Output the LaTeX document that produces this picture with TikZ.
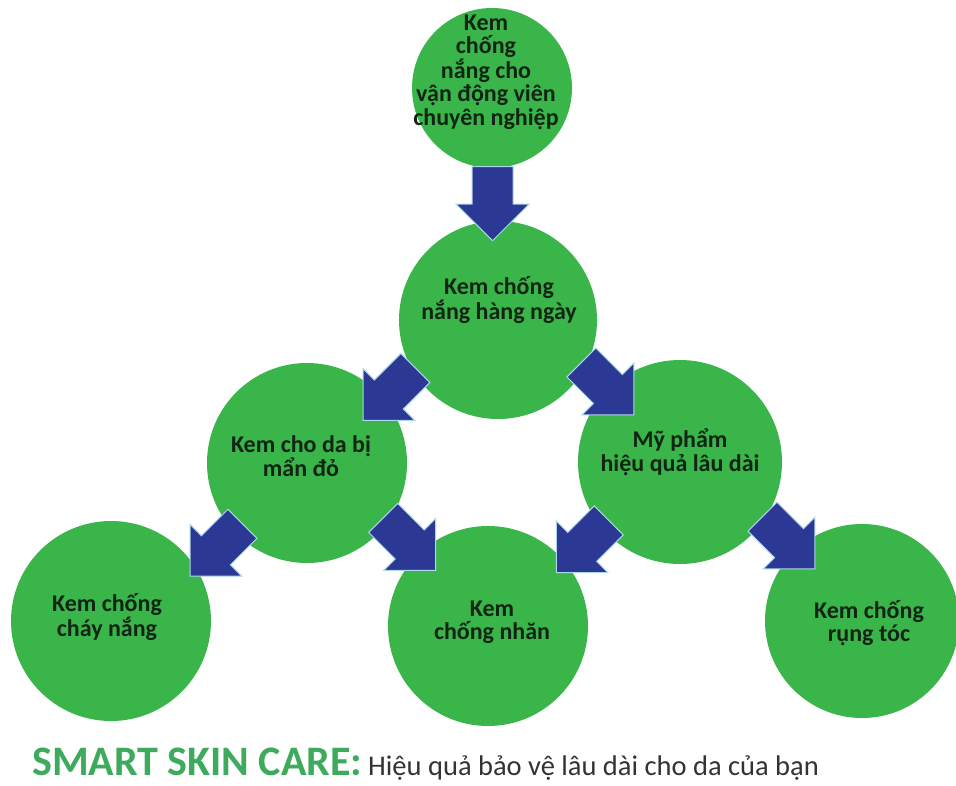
\documentclass[tikz,border=0pt]{standalone}
\usepackage{fontspec}
\setmainfont{Carlito}
\usepackage{xcolor}
\usetikzlibrary{calc,shapes.arrows,positioning}

\definecolor{bubblegreen}{RGB}{57,181,74}
\definecolor{arrowblue}{RGB}{43,57,148}
\definecolor{arrowedge}{RGB}{175,215,235}
\definecolor{textdark}{RGB}{18,36,20}
\definecolor{brandgreen}{RGB}{61,170,92}
\definecolor{sloggray}{RGB}{51,51,51}

\tikzset{
  bubble/.style={circle, fill=bubblegreen, inner sep=0pt},
  txt/.style={align=center, text=textdark, inner sep=0pt,
    font=\fontsize{24}{23.5}\selectfont\bfseries},
  barrow/.style={single arrow, fill=arrowblue, draw=arrowedge, line width=1pt,
    minimum height=74pt, minimum width=72pt, single arrow head extend=16pt,
    inner xsep=0pt, inner ysep=20pt},
  flow/.style={to path={
    let \p1=(\tikztostart), \p2=(\tikztotarget),
        \n1={atan2(\y2-\y1,\x2-\x1)}, \n2={\n1+180} in
    node[barrow, rotate={45*round(\n1/45)}] at ($(\tikztostart.\n1)!0.5!(\tikztotarget.\n2)+(#1)$) {}}},
  flow/.default={0,0}
}

\begin{document}
\begin{tikzpicture}[x=1pt, y=-1pt]
\useasboundingbox (0,0) rectangle (956,785);
\fill[white] (0,0) rectangle (956,785);

\node[bubble, minimum size=160pt] (top) at (492,88) {};
\node[bubble, minimum size=198pt] (mid) at (498,320) {};
\node[bubble, minimum size=200pt] (lmid) at (307,463) {};
\node[bubble, minimum size=204pt] (rmid) at (680,462) {};
\node[bubble, minimum size=200pt] (bl) at (111,621) {};
\node[bubble, minimum size=200pt] (bm) at (488,626) {};
\node[bubble, minimum size=194pt] (br) at (862,621) {};

\path[flow={-3,-1}] (top) to (mid);
\path[flow={-7,-5}] (mid) to (lmid);
\path[flow={12,-8}] (mid) to (rmid);
\path[flow={14,0}] (lmid) to (bl);
\path[flow={4,-7}] (lmid) to (bm);
\path[flow={6,-6}] (rmid) to (bm);
\path[flow={8,-7}] (rmid) to (br);

\node[txt] (toptxt) at (486,72) {Kem\\chống\\nắng cho\\vận động viên\\chuyên nghiệp};
\node[txt] (midtxt) at (499,300) {Kem chống\\nắng hàng ngày};
\node[txt] (lmidtxt) at (301,456) {Kem cho da bị\\mẩn đỏ};
\node[txt] (rmidtxt) at (680,452) {Mỹ phẩm\\hiệu quả lâu dài};
\node[txt] (bltxt) at (107,617) {Kem chống\\cháy nắng};
\node[txt] (bmtxt) at (492,622) {Kem\\chống nhăn};
\node[txt] (brtxt) at (869,623) {Kem chống\\rụng tóc};

\node[anchor=base west, inner sep=0pt, text depth=0pt, text=brandgreen,
  font=\fontsize{42}{44}\selectfont\bfseries] (brand) at (32,775) {SMART SKIN CARE:};
\node[anchor=base west, inner sep=0pt, text=sloggray,
  font=\fontsize{28.5}{32}\selectfont] (slogan) at (368,775) {Hiệu quả bảo vệ lâu dài cho da của bạn};
\end{tikzpicture}
\end{document}
